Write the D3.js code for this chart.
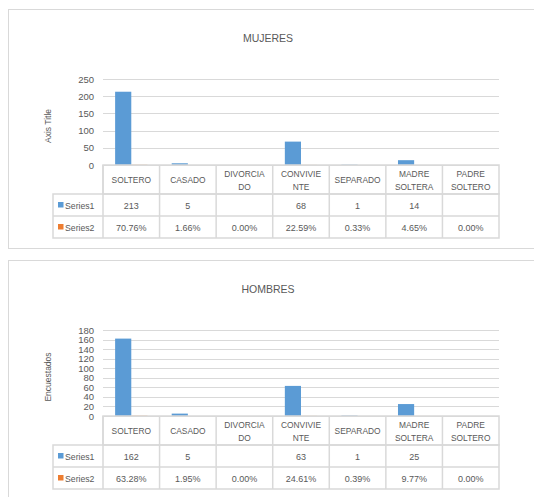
<!DOCTYPE html>
<html>
<head>
<meta charset="utf-8">
<script src="https://cdn.jsdelivr.net/npm/d3@7"></script>
<style>
  body { margin: 0; background: #fff; }
  svg text { font-family: "Liberation Sans", Arial, sans-serif; fill: #595959; }
</style>
</head>
<body>
<svg id="main" width="534" height="497"></svg>
<script>
var categories = ["SOLTERO", "CASADO", "DIVORCIA|DO", "CONVIVIE|NTE", "SEPARADO", "MADRE|SOLTERA", "PADRE|SOLTERO"];

var mujeresCount = [213, 5, null, 68, 1, 14, null];
var mujeresPct = [70.76, 1.66, 0.00, 22.59, 0.33, 4.65, 0.00];
var mujeresTicks = [0, 50, 100, 150, 200, 250];

var hombresCount = [162, 5, null, 63, 1, 25, null];
var hombresPct = [63.28, 1.95, 0.00, 24.61, 0.39, 9.77, 0.00];
var hombresTicks = [0, 20, 40, 60, 80, 100, 120, 140, 160, 180];

var blue = "#5b9bd5", orange = "#ed7d31", grid = "#d9d9d9";

var svg = d3.select("#main");

// frames
svg.append("rect").attr("x", 8.5).attr("y", 9.5).attr("width", 540).attr("height", 239)
    .attr("fill", "#fff").attr("stroke", grid);
svg.append("rect").attr("x", 8.5).attr("y", 260.5).attr("width", 540).attr("height", 250)
    .attr("fill", "#fff").attr("stroke", grid);

drawChart(0, "MUJERES", "Axis Title", mujeresCount, mujeresPct, mujeresTicks, 79, 165);
drawChart(251, "HOMBRES", "Encuestados", hombresCount, hombresPct, hombresTicks, 330, 416);

function drawChart(dy, title, axisTitle, counts, pcts, ticks, yTop, yBottom)
{
    var g = svg.append("g");
    var left = 103, right = 499;

    var x = d3.scaleBand().domain(categories).range([left, right]);
    var y = d3.scaleLinear().domain([0, d3.max(ticks)]).range([yBottom, yTop]);
    var x2 = d3.scaleBand().domain([0, 1]).range([0, x.bandwidth()]).paddingInner(0).paddingOuter(0.75);

    g.append("text").attr("x", 268).attr("y", dy + 42).attr("text-anchor", "middle")
        .attr("font-size", "10.5px").text(title);

    // gridlines
    g.selectAll(".grid").data(ticks).enter().append("line")
        .attr("x1", left).attr("x2", right)
        .attr("y1", function(d) { return Math.round(y(d)) + 0.5; })
        .attr("y2", function(d) { return Math.round(y(d)) + 0.5; })
        .attr("stroke", grid).attr("stroke-width", 1.2);

    var axis = d3.axisLeft(y).tickValues(ticks).tickSize(0).tickPadding(9);
    var ag = g.append("g").attr("transform", "translate(" + left + ",0)").call(axis);
    ag.select(".domain").remove();
    ag.selectAll("text").attr("font-size", "9.5px").attr("fill", "#595959")
        .style("font-family", "\"Liberation Sans\", Arial, sans-serif");

    g.append("text")
        .attr("transform", "translate(51," + ((yTop + yBottom) / 2 + 4) + ") rotate(-90)")
        .attr("text-anchor", "middle").attr("font-size", "8.5px").text(axisTitle);

    // bars
    g.selectAll(".b1").data(categories).enter().append("rect")
        .filter(function(d, i) { return counts[i] != null; })
        .attr("x", function(d) { return x(d) + x2(0); })
        .attr("width", x2.bandwidth())
        .attr("y", function(d) { return y(counts[categories.indexOf(d)]); })
        .attr("height", function(d) { return yBottom - y(counts[categories.indexOf(d)]); })
        .attr("fill", blue);
    g.selectAll(".b2").data(categories).enter().append("rect")
        .attr("x", function(d) { return x(d) + x2(1); })
        .attr("width", x2.bandwidth())
        .attr("y", function(d, i) { return y(pcts[i] / 100); })
        .attr("height", function(d, i) { return yBottom - y(pcts[i] / 100); })
        .attr("fill", orange);

    // data table
    var rowH = [yBottom, yBottom + 29, yBottom + 51, yBottom + 73];
    var tl = 53;
    var border = "#d9d9d9";
    g.append("rect").attr("x", left).attr("y", rowH[0]).attr("width", right - left).attr("height", rowH[1] - rowH[0])
        .attr("fill", "none").attr("stroke", border).attr("stroke-width", 1.5);
    g.append("rect").attr("x", tl).attr("y", rowH[1]).attr("width", right - tl).attr("height", rowH[3] - rowH[1])
        .attr("fill", "none").attr("stroke", border).attr("stroke-width", 1.5);
    g.append("line").attr("x1", tl).attr("x2", right).attr("y1", rowH[2]).attr("y2", rowH[2])
        .attr("stroke", border).attr("stroke-width", 1.5);
    g.selectAll(".vline").data(categories).enter().append("line")
        .attr("x1", function(d) { return x(d); }).attr("x2", function(d) { return x(d); })
        .attr("y1", rowH[0]).attr("y2", rowH[3])
        .attr("stroke", border).attr("stroke-width", 1.5);

    categories.forEach(function(c) {
        var parts = c.split("|");
        var cx = x(c) + x.bandwidth() / 2;
        var t = g.append("text").attr("text-anchor", "middle").attr("font-size", "8.4px");
        if (parts.length == 1) {
            t.append("tspan").attr("x", cx).attr("y", rowH[0] + 18).text(parts[0]);
        } else {
            t.append("tspan").attr("x", cx).attr("y", rowH[0] + 12).text(parts[0]);
            t.append("tspan").attr("x", cx).attr("y", rowH[0] + 25).text(parts[1]);
        }
    });

    g.selectAll(".v1").data(counts).enter().append("text")
        .attr("x", function(d, i) { return x(categories[i]) + x.bandwidth() / 2; })
        .attr("y", rowH[1] + 15).attr("text-anchor", "middle").attr("font-size", "9px")
        .text(function(d) { return d == null ? "" : d; });
    g.selectAll(".v2").data(pcts).enter().append("text")
        .attr("x", function(d, i) { return x(categories[i]) + x.bandwidth() / 2; })
        .attr("y", rowH[2] + 15).attr("text-anchor", "middle").attr("font-size", "9px")
        .text(function(d) { return d.toFixed(2) + "%"; });

    // legend keys
    [["Series1", blue], ["Series2", orange]].forEach(function(s, i) {
        var cy = (rowH[i + 1] + rowH[i + 2]) / 2;
        g.append("rect").attr("x", 58).attr("y", cy - 3).attr("width", 5.5).attr("height", 5.5).attr("fill", s[1]);
        g.append("text").attr("x", 65).attr("y", cy + 3.5).attr("font-size", "8.7px").text(s[0]);
    });
}
</script>
</body>
</html>
